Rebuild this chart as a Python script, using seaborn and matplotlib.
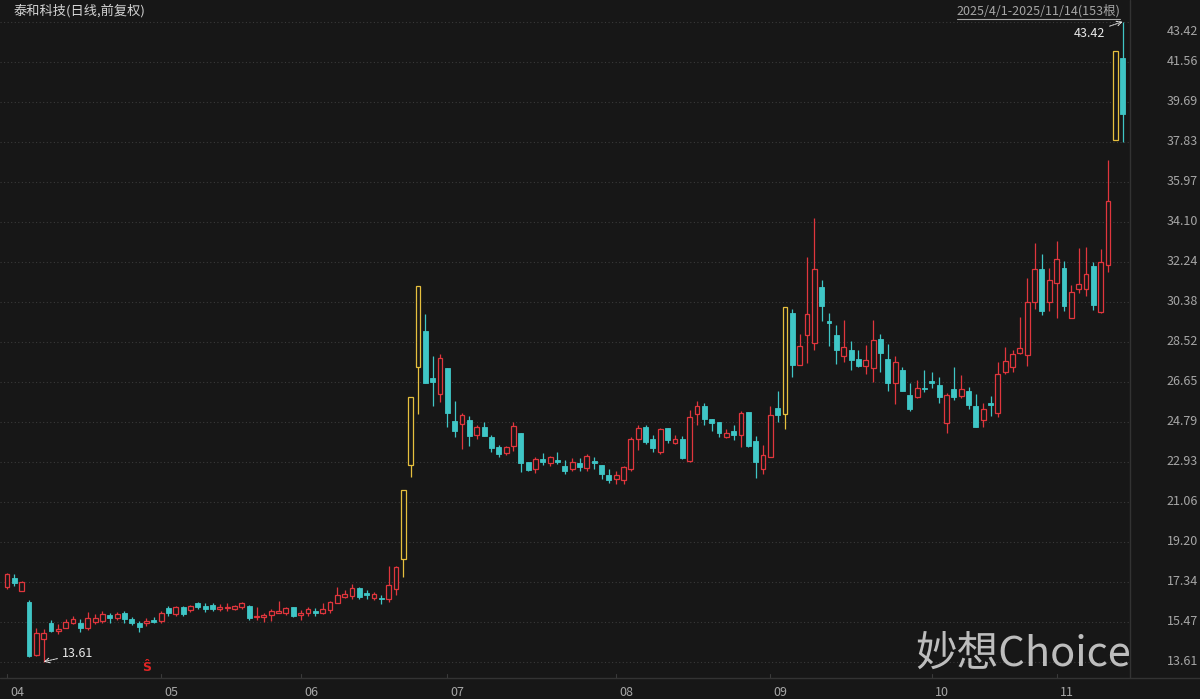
import numpy as np
import pandas as pd
import matplotlib
matplotlib.use("Agg")
import matplotlib.pyplot as plt
import matplotlib.transforms as mtransforms
from matplotlib.patches import Rectangle
from matplotlib.lines import Line2D
import seaborn as sns

# ---------------- data ----------------
opens = [17.11, 17.50, 16.92, 16.38, 13.91, 14.66, 15.43, 15.03, 15.20, 15.43,
         15.43, 15.18, 15.48, 15.52, 15.78, 15.64, 15.87, 15.62, 15.43, 15.40,
         15.56, 15.52, 16.10, 15.84, 16.15, 16.02, 16.33, 16.21, 16.24, 16.08,
         16.12, 16.05, 16.15, 16.21, 15.68, 15.71, 15.78, 15.87, 15.87, 16.15,
         15.79, 15.90, 15.98, 15.88, 16.02, 16.36, 16.64, 16.69, 17.03, 16.80,
         16.57, 16.59, 16.52, 16.99, 18.38, 22.76, 27.32, 29.01, 26.81, 26.07,
         27.28, 24.82, 24.67, 24.87, 24.17, 24.56, 24.09, 23.60, 23.35, 23.66,
         24.25, 22.90, 22.60, 23.05, 22.85, 23.00, 22.72, 22.57, 22.88, 22.62,
         22.97, 22.77, 22.31, 22.13, 22.07, 22.58, 23.97, 24.53, 23.97, 23.39,
         24.48, 23.78, 23.97, 22.97, 25.15, 25.52, 24.90, 24.79, 24.09, 24.37,
         24.17, 25.26, 23.89, 22.57, 23.16, 25.41, 25.17, 29.83, 27.42, 28.85,
         28.46, 31.04, 29.47, 28.85, 27.84, 28.12, 27.69, 27.39, 27.27, 28.63,
         27.73, 26.57, 27.19, 26.03, 25.95, 26.38, 26.68, 26.49, 24.74, 26.29,
         25.98, 26.23, 25.51, 24.89, 25.64, 25.20, 27.11, 27.35, 27.98, 27.89,
         30.37, 31.90, 30.37, 31.23, 31.97, 29.64, 30.95, 30.95, 32.03, 29.91,
         32.11, 37.91, 41.75]
highs = [17.76, 17.70, 17.39, 16.49, 15.17, 15.12, 15.56, 15.37, 15.62, 15.74,
         15.59, 15.91, 15.84, 15.96, 15.87, 15.93, 15.96, 15.71, 15.52, 15.66,
         15.68, 15.99, 16.21, 16.21, 16.21, 16.27, 16.40, 16.33, 16.33, 16.30,
         16.33, 16.27, 16.40, 16.27, 16.15, 15.87, 16.08, 16.46, 16.18, 16.18,
         16.02, 16.18, 16.12, 16.35, 16.46, 17.11, 16.95, 17.23, 17.09, 16.95,
         16.86, 16.72, 18.07, 18.07, 21.61, 25.93, 31.12, 29.79, 27.85, 27.94,
         27.28, 25.75, 25.18, 25.06, 24.63, 24.79, 24.17, 23.70, 23.67, 24.79,
         24.25, 22.93, 23.13, 23.35, 23.20, 23.39, 23.01, 23.08, 23.08, 23.28,
         23.13, 22.77, 22.57, 22.51, 22.72, 24.06, 24.63, 24.63, 24.17, 24.51,
         24.48, 24.17, 24.12, 25.33, 25.77, 25.64, 24.90, 24.79, 24.43, 24.63,
         25.30, 25.26, 24.12, 23.70, 25.52, 26.23, 30.12, 30.06, 28.87, 32.44,
         34.26, 31.38, 29.83, 29.29, 29.52, 28.54, 28.12, 28.35, 29.52, 28.87,
         28.43, 27.84, 27.35, 26.60, 26.72, 27.19, 27.11, 26.88, 26.13, 27.35,
         26.96, 26.41, 26.10, 25.64, 25.98, 27.58, 28.28, 28.12, 29.67, 31.46,
         33.12, 32.62, 31.93, 33.21, 32.27, 31.15, 32.86, 32.94, 32.24, 32.81,
         36.97, 42.07, 43.42]
lows = [17.00, 17.14, 16.92, 13.82, 13.88, 13.61, 15.01, 14.90, 15.17, 15.37,
        15.00, 15.09, 15.37, 15.43, 15.40, 15.56, 15.40, 15.34, 15.01, 15.28,
        15.40, 15.42, 15.73, 15.75, 15.75, 15.93, 16.06, 15.93, 15.99, 15.99,
        15.96, 16.00, 16.05, 15.57, 15.57, 15.47, 15.52, 15.87, 15.80, 15.71,
        15.56, 15.76, 15.76, 15.85, 15.90, 16.36, 16.58, 16.55, 16.55, 16.55,
        16.47, 16.30, 16.41, 16.72, 17.57, 22.20, 25.15, 26.58, 25.52, 25.72,
        24.56, 24.09, 23.50, 23.67, 23.97, 24.14, 23.39, 23.13, 23.22, 23.44,
        22.46, 22.49, 22.41, 22.77, 22.74, 22.80, 22.33, 22.51, 22.51, 22.51,
        22.57, 22.10, 21.95, 21.89, 21.89, 22.51, 23.47, 23.75, 23.39, 23.28,
        23.81, 23.75, 23.04, 22.93, 24.63, 24.63, 24.37, 24.06, 24.01, 23.94,
        23.59, 23.63, 22.15, 22.35, 23.13, 24.79, 24.43, 26.85, 27.42, 27.53,
        28.12, 29.49, 28.31, 27.47, 27.58, 27.19, 27.35, 27.03, 26.65, 27.11,
        26.23, 25.61, 26.23, 25.30, 25.87, 26.18, 26.38, 25.67, 24.24, 25.79,
        25.87, 25.40, 24.55, 24.55, 25.05, 25.02, 27.00, 27.11, 27.94, 27.38,
        30.02, 29.75, 29.95, 29.60, 29.95, 29.60, 30.79, 30.64, 29.98, 29.86,
        31.77, 37.91, 37.83]
closes = [17.70, 17.27, 17.31, 13.88, 14.94, 14.94, 15.06, 15.12, 15.48, 15.59,
          15.17, 15.65, 15.64, 15.84, 15.65, 15.82, 15.59, 15.40, 15.22, 15.52,
          15.48, 15.89, 15.87, 16.15, 15.84, 16.21, 16.18, 16.08, 16.08, 16.18,
          16.18, 16.22, 16.33, 15.66, 15.74, 15.79, 15.98, 15.98, 16.10, 15.76,
          15.87, 16.06, 15.90, 16.07, 16.38, 16.72, 16.78, 17.03, 16.64, 16.72,
          16.77, 16.52, 17.19, 18.01, 21.61, 25.93, 31.12, 26.61, 26.65, 27.74,
          25.21, 24.37, 25.10, 24.14, 24.53, 24.14, 23.58, 23.30, 23.60, 24.59,
          22.88, 22.54, 23.04, 22.91, 23.13, 22.93, 22.51, 22.93, 22.66, 23.19,
          22.85, 22.35, 22.07, 22.29, 22.66, 23.97, 24.48, 23.86, 23.55, 24.45,
          23.94, 23.97, 23.08, 24.99, 25.52, 24.90, 24.74, 24.28, 24.28, 24.17,
          25.21, 23.66, 22.93, 23.24, 25.10, 25.10, 30.12, 27.42, 28.31, 29.80,
          31.88, 30.17, 29.39, 28.12, 28.28, 27.66, 27.38, 27.66, 28.59, 27.97,
          26.60, 27.58, 26.23, 25.40, 26.34, 26.30, 26.59, 25.95, 26.03, 25.92,
          26.30, 25.56, 24.55, 25.36, 25.56, 27.00, 27.63, 27.94, 28.23, 30.37,
          31.90, 29.95, 31.38, 32.39, 30.17, 30.84, 31.18, 31.65, 30.22, 32.21,
          35.06, 42.07, 39.12]

month_labels = ["04", "05", "06", "07", "08", "09", "10", "11"]
month_starts = [0, 21, 40, 60, 83, 104, 126, 143]
ytick_labels = ["43.42", "41.56", "39.69", "37.83", "35.97", "34.10", "32.24",
                "30.38", "28.52", "26.65", "24.79", "22.93", "21.06", "19.20",
                "17.34", "15.47", "13.61"]
title_text = "泰和科技(日线,前复权)"
range_text = "2025/4/1-2025/11/14(153根)"
watermark = "妙想Choice"
signal_index = 19
signal_text = "Ŝ"

# ---------------- styling ----------------
BG = "#171717"
RED = "#e0363d"
CYAN = "#3fc6c6"
YEL = "#e6bf3e"
GRID = "#3a3a3a"
LABEL = "#a6a6a6"

sns.set_theme(style="dark", rc={"axes.facecolor": BG, "figure.facecolor": BG,
                                "savefig.facecolor": BG})
plt.rcParams['font.family'] = ['Noto Sans CJK SC', 'DejaVu Sans']

df = pd.DataFrame({"open": opens, "high": highs, "low": lows, "close": closes})
df["idx"] = np.arange(len(df))
df["limit"] = (df["close"] / df["close"].shift(1)) >= 1.195
df["up"] = df["close"] >= df["open"]

W, H = 1200, 699
fig = plt.figure(figsize=(W / 100, H / 100), dpi=100)
ax = fig.add_axes([0, 21 / H, 1130 / W, 658 / H])
ax.set_facecolor(BG)
ax.set_xlim(-0.954, 153.0)
ax.set_ylim(12.851, 43.499)
ax.set_xticks([])
ax.set_yticks([])
for s in ax.spines.values():
    s.set_visible(False)

# dotted grid
for lab in ytick_labels:
    ax.axhline(float(lab), color=GRID, lw=0.8, ls=(0, (1, 2.2)), zorder=0)

# candles
w = 0.66
for r in df.itertuples():
    if r.limit:
        col, hollow = YEL, True
    elif r.up:
        col, hollow = RED, True
    else:
        col, hollow = CYAN, False
    top = max(r.open, r.close)
    bot = min(r.open, r.close)
    hgt = max(top - bot, 0.03)
    if hollow:
        if r.high > top:
            ax.vlines(r.idx, top, r.high, color=col, lw=0.9, zorder=2)
        if r.low < bot:
            ax.vlines(r.idx, r.low, bot, color=col, lw=0.9, zorder=2)
        ax.add_patch(Rectangle((r.idx - w / 2, bot), w, hgt, facecolor=BG,
                               edgecolor=col, lw=0.9, zorder=3))
    else:
        ax.vlines(r.idx, r.low, r.high, color=col, lw=0.9, zorder=2)
        ax.add_patch(Rectangle((r.idx - w / 2, bot), w, hgt, facecolor=col,
                               edgecolor=col, lw=0.6, zorder=3))

# min / max annotations
imin = int(df["low"].idxmin())
imax = int(df["high"].idxmax())
ax.annotate(f"{df['low'].min():.2f}", xy=(imin, df["low"].min()),
            xytext=(7.5, 13.97), color="#e8e8e8", fontsize=9, ha="left", va="center",
            arrowprops=dict(arrowstyle="->", color="#e8e8e8", lw=0.7, ls=(0, (2, 1)),
                            shrinkA=1, shrinkB=0))
ax.annotate(f"{df['high'].max():.2f}", xy=(imax, df["high"].max()),
            xytext=(149.6, 42.89), color="#e8e8e8", fontsize=9, ha="right", va="center",
            arrowprops=dict(arrowstyle="->", color="#e8e8e8", lw=0.7, ls=(0, (2, 1)),
                            shrinkA=1, shrinkB=0))

# signal marker
ax.text(signal_index, 13.32, signal_text, color="#e02525", fontsize=9,
        fontweight="bold", ha="center", va="center", family=["DejaVu Sans"])

# right axis labels
trans = mtransforms.blended_transform_factory(fig.transFigure, ax.transData)
for k, lab in enumerate(ytick_labels):
    if k == 0:
        ax.annotate(lab, xy=(1198 / W, float(lab)), xycoords=trans,
                    xytext=(0, -6.7), textcoords="offset points",
                    ha="right", va="center", color=LABEL, fontsize=9,
                    annotation_clip=False)
    else:
        ax.text(1198 / W, float(lab), lab, transform=trans, ha="right",
                va="center", color=LABEL, fontsize=9, clip_on=False)

# month labels and small ticks
transx = mtransforms.blended_transform_factory(ax.transData, fig.transFigure)
for lab, i in zip(month_labels, month_starts):
    ax.text(i + 0.45, 1 - 692 / H, lab, transform=transx, ha="left", va="center",
            color=LABEL, fontsize=9, clip_on=False)
    ax.add_line(Line2D([i, i], [1 - 678 / H, 1 - 674 / H], transform=transx,
                       color="#3a3a3a", lw=0.8, clip_on=False))

# frame lines
fig.add_artist(Line2D([0, 1], [1 - 678 / H, 1 - 678 / H], color="#333333", lw=1.0))
fig.add_artist(Line2D([1130 / W, 1130 / W], [1 - 678 / H, 1], color="#333333", lw=1.0))

# header texts
fig.text(13 / W, 1 - 11 / H, title_text, color="#d4d4d4", fontsize=9.5,
         ha="left", va="center")
fig.text(1120 / W, 1 - 11 / H, range_text, color=LABEL, fontsize=9,
         ha="right", va="center")
fig.add_artist(Line2D([957 / W, 1120 / W], [1 - 19 / H, 1 - 19 / H],
                      color=LABEL, lw=0.8))

# watermark
fig.text(915 / W, 1 - 654 / H, watermark, color="#d0d0d0", alpha=0.9,
         fontsize=30, ha="left", va="center")

fig.savefig("out.png", dpi=100, facecolor=BG)
